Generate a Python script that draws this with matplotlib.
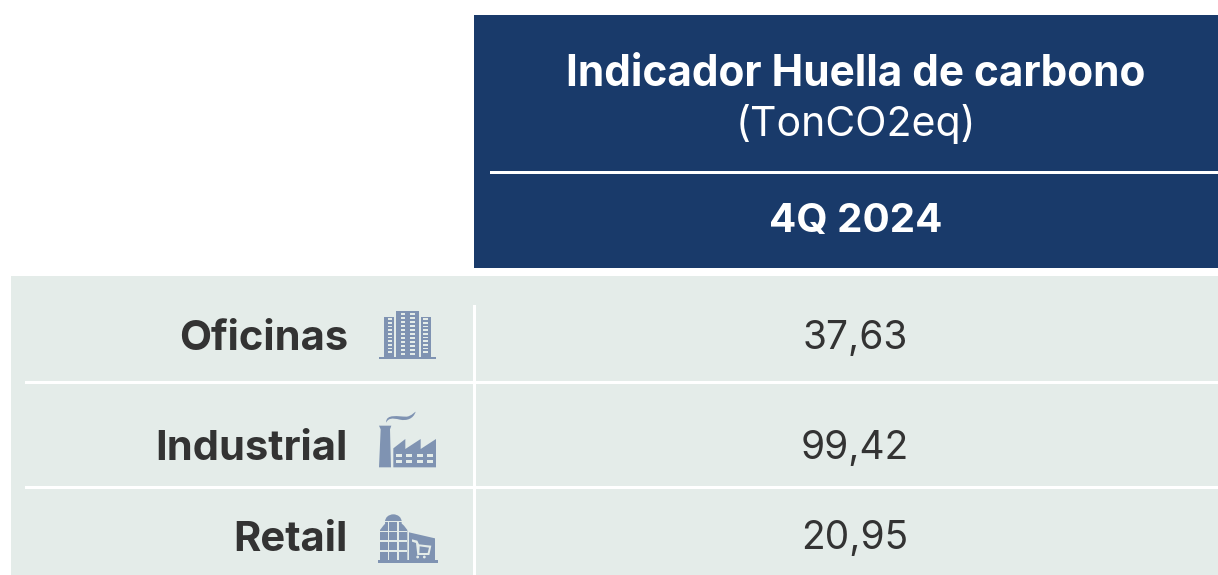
import matplotlib
matplotlib.use("Agg")
import matplotlib.pyplot as plt
from matplotlib.patches import Rectangle, Polygon, Ellipse, PathPatch
from matplotlib.path import Path

categories = ["Oficinas", "Industrial", "Retail"]
values = ["37,63", "99,42", "20,95"]
title = "Indicador Huella de carbono"
unit = "(TonCO2eq)"
period = "4Q 2024"

NAVY, PANEL, INK, ICON = "#193A6A", "#E4ECE9", "#333333", "#7F93B2"
plt.rcParams["font.family"] = ["Inter", "DejaVu Sans"]

fig = plt.figure(figsize=(12.18, 5.75), dpi=100, facecolor="white")
ax = fig.add_axes([0, 0, 1, 1])
ax.set_xlim(0, 1218)
ax.set_ylim(575, 0)
ax.axis("off")


def rect(x0, y0, x1, y1, color, z=1):
    ax.add_patch(Rectangle((x0, y0), x1 - x0, y1 - y0, fc=color, ec="none", zorder=z))


rect(474, 15, 1218, 268, NAVY)
rect(11, 276, 1218, 575, PANEL)
rect(490, 171, 1218, 174, "white", 2)
rect(25, 380.5, 1218, 384, "white", 2)
rect(25, 485.5, 1218, 489, "white", 2)
rect(473, 305, 475.5, 575, "white", 3)

ax.text(855.5, 75, title, ha="center", va="center", color="white", fontsize=30.5, fontweight="bold")
ax.text(855.5, 124, unit, ha="center", va="center", color="white", fontsize=29.5, fontweight="normal")
ax.text(855.5, 221, period, ha="center", va="center", color="white", fontsize=29, fontweight="bold")

row_y = [339, 449, 540]
for cat, val, y in zip(categories, values, row_y):
    ax.text(348, y, cat, ha="right", va="center", color=INK, fontsize=30, fontweight="bold")
    ax.text(855, y - 1, val, ha="center", va="center", color=INK, fontsize=28)


def zx(v):
    return 360 + v / 3


def zy(v):
    return 295 + v / 3


def zrect(x0, y0, x1, y1, color=ICON, z=4):
    rect(zx(x0), zy(y0), zx(x1), zy(y1), color, z)


def zpoly(pts, color=ICON, z=4):
    ax.add_patch(Polygon([(zx(a), zy(b)) for a, b in pts], closed=True, fc=color, ec="none", zorder=z))


# Offices icon
for x0, x1, top in [(72, 102, 65), (108, 177, 48), (183, 213, 65)]:
    zrect(x0, top, x1, 186)
zrect(58, 185, 227, 193)
for wy in range(70, 180, 11):
    zrect(84, wy, 97, wy + 5, PANEL, 5)
    zrect(190, wy, 203, wy + 5, PANEL, 5)
for wy in range(55, 180, 12):
    zrect(122, wy, 136, wy + 6, PANEL, 5)
    zrect(150, wy, 164, wy + 6, PANEL, 5)

# Factory icon
zpoly([(57, 392), (94, 392), (90, 403), (93, 517), (57, 517), (62, 403)])
zpoly([(100, 517), (100, 460), (136, 432), (136, 462), (182, 432), (182, 462), (228, 432), (228, 517)])
for wy in (478, 495):
    for wx in (107, 138, 170, 201):
        zrect(wx, wy, wx + 18, wy + 8, PANEL, 5)
smoke = Path([(zx(78), zy(383)), (zx(78), zy(355)), (zx(115), zy(365)), (zx(140), zy(365)),
              (zx(155), zy(363)), (zx(165), zy(350)), (zx(167), zy(350)),
              (zx(160), zy(372)), (zx(140), zy(378)), (zx(120), zy(374)),
              (zx(95), zy(368)), (zx(85), zy(370)), (zx(78), zy(383))],
             [Path.MOVETO] + [Path.CURVE4] * 12)
ax.add_patch(PathPatch(smoke, fc=ICON, ec="none", zorder=4))

# Retail icon: a rounded, banded tower beside a shop with a cart
zrect(54, 795, 234, 803)
ax.add_patch(Ellipse((zx(100), zy(680)), 50 / 3, 44 / 3, fc=ICON, ec="none", zorder=4))
zrect(70, 677, 132, 681, PANEL, 5)
zpoly([(60, 795), (60, 705), (70, 692), (80, 681), (120, 681), (132, 692), (142, 705), (142, 795)])
zpoly([(147, 712), (225, 730), (225, 795), (147, 795)])
for wx in (83, 112):
    zrect(wx, 681, wx + 4, 795, PANEL, 5)
for a, b in [(60, 708), (60, 736), (60, 766)]:
    zrect(a, b, 142, b + 4, PANEL, 5)
# Cart
zpoly([(156, 733), (172, 737), (177, 748), (214, 752), (208, 780), (172, 780), (168, 744), (156, 740)], PANEL, 5)
zpoly([(179, 754), (207, 758), (203, 774), (178, 774)], ICON, 6)
for cx in (173, 193):
    ax.add_patch(Ellipse((zx(cx), zy(786)), 2.8, 2.8, fc=PANEL, ec="none", zorder=5))

fig.savefig("out.png", dpi=100, facecolor="white")
